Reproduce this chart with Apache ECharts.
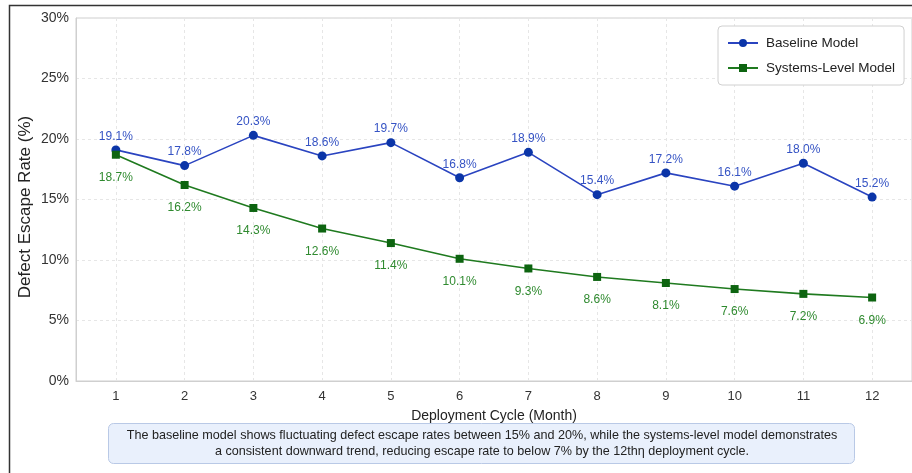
<!DOCTYPE html>
<html>
<head>
<meta charset="utf-8">
<script src="https://cdn.jsdelivr.net/npm/echarts@6/dist/echarts.min.js"></script>
<style>
html,body{margin:0;padding:0;background:#fff;}
#chart{width:912px;height:473px;}
</style>
</head>
<body>
<div id="chart"></div>
<script>
const cycles = [1,2,3,4,5,6,7,8,9,10,11,12];
const baseline = [19.1,17.8,20.3,18.6,19.7,16.8,18.9,15.4,17.2,16.1,18.0,15.2];
const systemsLevel = [18.7,16.2,14.3,12.6,11.4,10.1,9.3,8.6,8.1,7.6,7.2,6.9];
const yTicks = [0,5,10,15,20,25,30];
const yTitle = 'Defect Escape Rate (%)';
const noteLines = [
  'The baseline model shows fluctuating defect escape rates between 15% and 20%, while the systems-level model demonstrates',
  'a consistent downward trend, reducing escape rate to below 7% by the 12th\u03b7 deployment cycle.'
];

const chart = echarts.init(document.getElementById('chart'));
const FONT = 'Liberation Sans, Arial, sans-serif';
const blue = '#2a44c0', blueDark = '#0b35a8', blueText = '#3553c4';
const green = '#1f7a1f', greenDark = '#0d6410', greenText = '#2f8a2f';

chart.setOption({
  backgroundColor: '#fff',
  animation: false,
  textStyle: {fontFamily: FONT},
  grid: {left: 76, top: 18, width: 839, height: 363, show: true, borderColor: '#cfcfcf', borderWidth: 1},
  legend: {
    orient: 'vertical', left: 718, top: 26,
    padding: [10, 9, 10, 9], itemGap: 11,
    itemWidth: 30, itemHeight: 10,
    backgroundColor: '#fff', borderColor: '#d0d0d0', borderWidth: 1, borderRadius: 4,
    textStyle: {fontSize: 13.5, color: '#222', fontFamily: FONT, padding: [0, 0, 0, 3]},
    data: ['Baseline Model', 'Systems-Level Model']
  },
  xAxis: {
    type: 'value', min: 0.42, max: 12.58,
    name: 'Deployment Cycle (Month)', nameLocation: 'middle', nameGap: 28,
    nameTextStyle: {fontSize: 14, color: '#222', fontFamily: FONT},
    axisLine: {lineStyle: {color: '#cfcfcf'}},
    axisTick: {show: false, customValues: cycles},
    axisLabel: {customValues: cycles, fontSize: 13, color: '#333', margin: 9, fontFamily: FONT},
    splitLine: {show: true, lineStyle: {color: '#e6e6e6', type: [3, 3]}}
  },
  yAxis: {
    type: 'value', min: 0, max: 30, interval: 5,
    axisLine: {show: true, lineStyle: {color: '#cfcfcf'}},
    axisTick: {show: false},
    axisLabel: {formatter: v => yTicks.includes(v) ? v + '%' : '', fontSize: 14, color: '#333', margin: 7, fontFamily: FONT},
    splitLine: {show: true, lineStyle: {color: '#e6e6e6', type: [3, 3]}}
  },
  series: [
    {
      name: 'Baseline Model', type: 'line',
      data: cycles.map((c, i) => [c, baseline[i]]),
      symbol: 'circle', symbolSize: 9,
      lineStyle: {color: blue, width: 1.6},
      itemStyle: {color: blueDark},
      label: {show: true, position: 'top', distance: 3, formatter: p => p.value[1].toFixed(1) + '%', color: blueText, fontSize: 12, fontFamily: FONT},
      z: 3
    },
    {
      name: 'Systems-Level Model', type: 'line',
      data: cycles.map((c, i) => [c, systemsLevel[i]]),
      symbol: 'rect', symbolSize: 8,
      lineStyle: {color: green, width: 1.6},
      itemStyle: {color: greenDark},
      label: {show: true, position: 'bottom', distance: 13, formatter: p => p.value[1].toFixed(1) + '%', color: greenText, fontSize: 12, fontFamily: FONT},
      z: 3
    }
  ],
  graphic: [
    {type: 'rect', shape: {x: 9.5, y: 5.5, width: 920, height: 480}, style: {fill: 'none', stroke: '#333', lineWidth: 1.5}, silent: true},
    {type: 'text', x: 25, y: 207, rotation: Math.PI / 2, style: {text: yTitle, fill: '#222', font: '17px ' + FONT, align: 'center', verticalAlign: 'middle'}},
    {type: 'rect', shape: {x: 108.5, y: 423.5, width: 746, height: 40, r: 5}, style: {fill: '#e9f0fc', stroke: '#b9c9e6', lineWidth: 1}},
    {type: 'text', x: 482, y: 436, style: {text: noteLines[0], fill: '#222', font: '12.6px ' + FONT, align: 'center', verticalAlign: 'middle'}},
    {type: 'text', x: 482, y: 452, style: {text: noteLines[1], fill: '#222', font: '12.6px ' + FONT, align: 'center', verticalAlign: 'middle'}}
  ]
});
</script>
</body>
</html>
